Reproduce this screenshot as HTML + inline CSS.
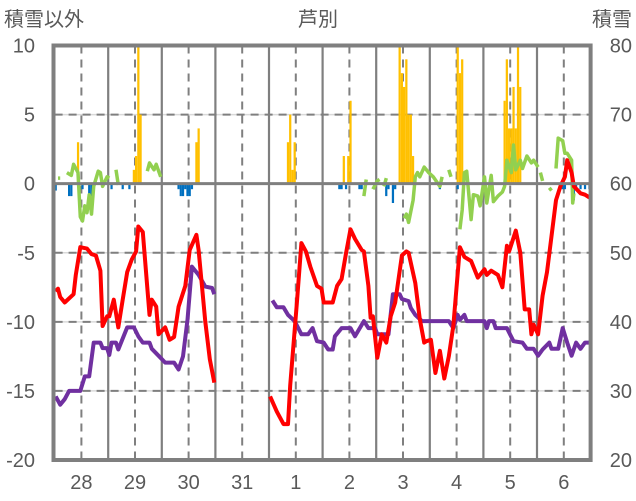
<!DOCTYPE html>
<html><head><meta charset="utf-8">
<style>
html,body{margin:0;padding:0;background:#fff;}
svg{display:block;font-family:"Liberation Sans","Noto Sans CJK JP",sans-serif;}
</style></head>
<body>
<svg id="chart" width="636" height="501" viewBox="0 0 636 501" xmlns="http://www.w3.org/2000/svg">
<g id="grid"></g>
<g id="bars"></g>
<g id="lines"></g>
<g id="axes"></g>
<text x="4" y="26" font-size="20" fill="#595959">積雪以外</text>
<text x="318" y="26" font-size="20" fill="#595959" text-anchor="middle">芦別</text>
<text x="632" y="26" font-size="20" fill="#595959" text-anchor="end">積雪</text>
</svg>
<script>
// ---- data ----
const dayLabels = ["28","29","30","31","1","2","3","4","5","6"];
const leftTicks = [10,5,0,-5,-10,-15,-20];
const rightTicks = [80,70,60,50,40,30,20];

const tempHours = [0,1,2,4,8,9,11,14,16,18,20,21,23,24,26,28,30,32,34,36,37,39,42,43,45,46,49,51,53,55,58,60,63,64,67,69,71,
  null,
  96,99,102,104,105,108,110,112,114,117,119,120,124,126,128,130,132,134,137,138,140,141,142,144,146,148,150,152,155,157,158,161,163,165,166,168,170,172,174,176,178,181,183,186,189,192,193,195,198,200,202,203,206,208,210,212,213,214,216,218,220,222,224,226,228,229,231,232,235,237,239];
const tempValues = [-7.8,-7.6,-8.2,-8.6,-8.0,-6.6,-4.6,-4.7,-5.1,-5.2,-6.3,-10.3,-9.6,-9.6,-8.4,-10.4,-8.4,-6.4,-5.5,-4.9,-3.1,-3.5,-9.5,-8.4,-8.9,-10.9,-10.4,-11.3,-11.1,-8.9,-7.4,-4.8,-3.7,-4.8,-10,-12.7,-14.4,
  null,
  -15.4,-16.5,-17.4,-17.4,-14.6,-8.6,-4.3,-4.9,-6,-7.4,-7.6,-8.6,-8.6,-7.4,-6.9,-5,-3.3,-4,-4.8,-4.9,-7.4,-9.7,-9.6,-12.6,-10.9,-11.5,-9.6,-8.6,-5.2,-4.9,-5,-7.2,-9.8,-11.5,-11.4,-11.3,-13.7,-12.1,-14.1,-12.5,-10.3,-4.6,-5.3,-5.6,-6.8,-6.2,-6.6,-6.3,-6.6,-7.5,-4.5,-4.9,-3.4,-5,-9.1,-9.1,-10.9,-10.2,-10.9,-8.1,-6.4,-3.8,-1.2,-0.2,0.5,1.7,0.8,-0.2,-0.7,-0.8,-1];

const snowHours = [0,2,4,6,11,13,15,17,20,21,23,24,25,27,28,32,35,37,39,42,43,46,49,53,55,57,59,61,64,67,70,71,
  null,
  97,99,102,104,107,110,113,115,117,120,122,124,125,128,132,134,138,140,143,144,149,151,154,155,158,159,161,164,176,178,180,181,183,184,192,193,194,196,197,202,205,209,211,214,216,218,221,222,225,227,229,231,233,235,237,239];
const snowValues = [29.2,28,28.8,30,30,32.1,32.1,37,37,36.2,36.2,35.2,37,37,36,39.2,39.2,37.9,37,37,36.1,35.1,34.1,34.1,33.1,35,40.3,48,46.8,45.1,44.9,44,
  null,
  43.1,42.1,42.1,41,40.1,38.2,38.2,39.1,37.2,37,36,36,37.9,39.1,39.1,37.9,40.1,39.1,39.1,38.2,38.2,44,44,43.3,43,42,41,40.1,40.1,39.1,41,40.3,41,40.1,40.1,39.1,40.1,40.1,39.1,39.1,37.2,37,36.1,36.1,35.1,36,37,36.1,36.1,39.1,37,35.1,37,36.1,37,37];

const windHours = [1,2,null,5,7,8,10,11,12,13,14,15,16,17,19,20,21,23,24,null,27,28,null,41,42,44,45,47,null,
  138,139,null,142,144,145,null,147,148,null,156,157,158,160,161,162,163,165,167,169,172,173,null,176,177,null,
  181,182,183,184,186,187,189,190,192,193,195,196,198,200,201,202,204,205,206,208,209,211,213,214,216,null,
  217,218,null,221,222,null,224,225,227,228,229,231,231.5,232];
const windValues = [0.4,0.4,null,0.8,0.6,1.4,0.8,-2.4,-2.7,-1.6,-2.1,-0.8,-2.2,-0.2,0.9,0.8,-0.2,0.5,0.4,null,1,-0.1,null,0.9,1.5,1,1.4,0.5,null,
  -0.9,0.3,null,-0.4,0.2,0.3,null,-0.2,0.4,null,-2.5,-2.2,-2.8,-1.2,0.5,0.8,0.5,1.2,0.8,0.5,-0.2,0.5,null,1.0,0.5,null,
  -3.3,-1.9,0.8,0.9,-2.6,-0.8,-0.9,-1.6,0.5,-1.4,0.6,-1.3,-0.9,-0.6,-0.2,1.7,0.8,2.8,1.0,1.7,1.1,2.0,1.5,1.7,1.2,null,
  0.8,0.2,null,-0.3,-0.5,null,1.1,3.3,3.1,2.2,2.2,1.7,-1.4,-0.7];

const precipHours = [10,35,36,37,38,63,64,104,105,106,107,129,131,132,154,155,156,157,158,159,160,180,181,182,201,202,203,204,205,206,207,208];
const precipValues = [3,1,2,10,5,3,4,3,5,1,3,2,2,6,10,8,7,9,5,5,2,10,8,9,6,9,4,4,7,4,10,7];

const meltHours = [0,6,7,12,15,16,25,30,33,55,56,57,58,59,60,61,127,128,130,136,137,148,149,151,152,172,180,227,228,232,233,235,237,239];
const meltValues = [-0.5,-0.9,-0.9,-0.4,-0.9,-0.9,-0.4,-0.4,-0.4,-0.4,-0.9,-0.9,-0.4,-0.9,-0.9,-0.4,-0.4,-0.4,-0.4,-0.4,-0.4,-0.9,-0.4,-1.4,-0.4,-0.4,-0.4,-0.4,-0.4,-1.2,-0.4,-0.4,-0.4,-0.4];

// ---- scales ----
const X0 = 54.6, X1 = 590.6, NH = 240;
const YT = 45.5, YB = 460;
function xAt(h){ return X0 + (h/NH)*(X1-X0); }
function yL(v){ return YT + (10 - v)/30*(YB-YT); }
function yR(v){ return YT + (80 - v)/60*(YB-YT); }
const NS = "http://www.w3.org/2000/svg";
function mk(tag, attrs, parent){ const e=document.createElementNS(NS,tag); for(const k in attrs) e.setAttribute(k,attrs[k]); parent.appendChild(e); return e; }
const grid=document.getElementById('grid'), bars=document.getElementById('bars'), lines=document.getElementById('lines'), axes=document.getElementById('axes');
const dayW=(X1-X0)/10;

leftTicks.forEach(function(t){
  if(t===10||t===-20||t===0) return;
  const y=yL(t);
  const g=mk('line',{x1:X0,x2:X1,y1:y,y2:y,stroke:'#d9d9d9','stroke-width':1.5},grid);
  
  
  const d=mk('line',{x1:X0,x2:X1,y1:y,y2:y,stroke:'#7f7f7f','stroke-width':2,'stroke-dasharray':'8,6'},grid);
  
  
});
for(let i=0;i<10;i++){
  const xm=X0+dayW*(i+0.5);
  const d=mk('line',{x1:xm,x2:xm,y1:YT,y2:YB,stroke:'#7f7f7f','stroke-width':2,'stroke-dasharray':'8,6'},grid);
  
  
  if(i>0){
    const xs=X0+dayW*i;
    const s=mk('line',{x1:xs,x2:xs,y1:YT,y2:YB,stroke:'#7f7f7f','stroke-width':2.2},grid);
    
    
  }
  const tx=mk('text',{x:xm,y:489,'font-size':20,fill:'#595959','text-anchor':'middle'},axes);
  tx.textContent=dayLabels[i];
  
  
}
const bw=dayW/24;
precipHours.forEach(function(h,i){
  const y=yL(precipValues[i]);
  const r=mk('rect',{x:xAt(h),y:y,width:bw,height:yL(0)-y,fill:'#FFC000'},bars);
  
  
});
meltHours.forEach(function(h,i){
  const y=yL(meltValues[i]);
  const r=mk('rect',{x:xAt(h),y:yL(0),width:bw,height:y-yL(0),fill:'#0070C0'},bars);
  
  
});
const z=mk('line',{x1:X0,x2:X1,y1:yL(0),y2:yL(0),stroke:'#7f7f7f','stroke-width':3},axes);



function pathFrom(hours, vals, yf){
  let d='', pen=false;
  for(let i=0;i<hours.length;i++){
    if(hours[i]===null||vals[i]===null){ pen=false; continue; }
    const px=xAt(hours[i]+0.5), py=yf(vals[i]);
    d += (pen?'L':'M') + px.toFixed(1)+','+py.toFixed(1);
    pen=true;
  }
  return d;
}
const pw=mk('path',{d:pathFrom(windHours,windValues,yL),fill:'none',stroke:'#92D050','stroke-width':3.5,'stroke-linejoin':'round'},lines);


const ps=mk('path',{d:pathFrom(snowHours,snowValues,yR),fill:'none',stroke:'#7030A0','stroke-width':4,'stroke-linejoin':'round'},lines);


const pt=mk('path',{d:pathFrom(tempHours,tempValues,yL),fill:'none',stroke:'#FF0000','stroke-width':4,'stroke-linejoin':'round'},lines);



const f=mk('rect',{x:53.5,y:YT,width:X1-53.5,height:YB-YT,fill:'none',stroke:'#7f7f7f','stroke-width':4},axes);


leftTicks.forEach(function(t){
  const tx=mk('text',{x:35,y:yL(t)+7,'font-size':20,fill:'#595959','text-anchor':'end'},axes);
  tx.textContent=String(t);
  
  
});
rightTicks.forEach(function(t){
  const tx=mk('text',{x:632,y:yR(t)+7,'font-size':20,fill:'#595959','text-anchor':'end'},axes);
  tx.textContent=String(t);
  
  
});
</script>
</body></html>
